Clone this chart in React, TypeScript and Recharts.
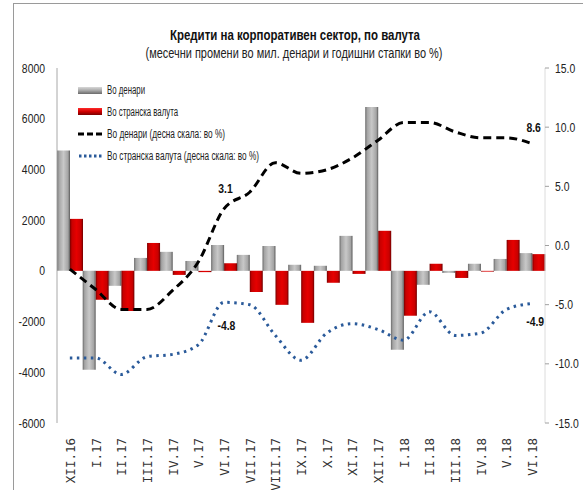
import React from "react";
import {
  ComposedChart,
  Bar,
  Line,
  XAxis,
  YAxis,
  LabelList,
} from "recharts";

const categories = [
  "XII.16", "I.17", "II.17", "III.17", "IV.17", "V.17", "VI.17", "VII.17", "VIII.17",
  "IX.17", "X.17", "XI.17", "XII.17", "I.18", "II.18", "III.18", "IV.18", "V.18", "VI.18",
];
const denariChange = [4750, -3900, -590, 510, 750, 390, 1020, 630, 980, 240, 200, 1380, 6460, -3110, -550, -80, 280, 470, 700];
const foreignChange = [2050, -1140, -1580, 1100, -160, -50, 300, -830, -1340, -2050, -470, -120, 1580, -1770, 280, -280, -30, 1220, 660];
const denariRate = [-2.0, -3.7, -5.4, -5.4, -3.8, -1.4, 3.1, 4.5, 7.0, 6.1, 6.4, 7.4, 8.9, 10.4, 10.4, 9.6, 9.1, 9.1, 8.6];
const foreignRate = [-9.5, -9.5, -10.9, -9.4, -9.2, -8.4, -4.8, -5.0, -7.6, -9.7, -7.4, -6.6, -7.1, -8.0, -5.6, -7.6, -7.4, -5.4, -4.9];
const leftTicks = [-6000, -4000, -2000, 0, 2000, 4000, 6000, 8000];
const rightTicks = [-15, -10, -5, 0, 5, 10, 15];
const labelledIdx = [6, 18];

const title = "Кредити на корпоративен сектор, по валута";
const subtitle = "(месечни промени во мил. денари и годишни стапки во %)";
const seriesNames = [
  "Во денари",
  "Во странска валута",
  "Во денари  (десна скала: во %)",
  "Во странска валута  (десна скала: во %)",
];

const data = categories.map((c, i) => ({
  cat: c,
  den: denariChange[i],
  fx: foreignChange[i],
  denR: denariRate[i],
  fxR: foreignRate[i],
}));

const FONT = "'Liberation Sans', Arial, sans-serif";
const SX = 0.8;

const XTick = (props: any) => {
  const { x, payload } = props;
  return (
    <text
      x={0}
      y={0}
      transform={`translate(${x + 5},438) rotate(-90)`}
      textAnchor="end"
      fontFamily="'DejaVu Sans Mono', monospace"
      fontSize={12.5}
      fill="#333"
    >
      {payload.value}
    </text>
  );
};

const LeftTick = (props: any) => {
  const { x, y, payload } = props;
  return (
    <g transform={`translate(${x},${y})`}>
      <text x={0} y={0} dy="0.35em" textAnchor="end" transform={`scale(${SX},1)`}
        fontFamily={FONT} fontSize={13} fill="#222">
        {payload.value}
      </text>
    </g>
  );
};

const RightTick = (props: any) => {
  const { x, y, payload } = props;
  return (
    <g transform={`translate(${x},${y})`}>
      <text x={0} y={0} dy="0.35em" textAnchor="start" transform={`scale(${SX},1)`}
        fontFamily={FONT} fontSize={13} fill="#222">
        {Number(payload.value).toFixed(1)}
      </text>
    </g>
  );
};

const makeLabel = (above: boolean) => (props: any) => {
  const { x, y, index, value } = props;
  if (!labelledIdx.includes(index)) return null;
  const last = index === categories.length - 1;
  const dy = above ? (last ? -12 : -16) : (last ? 22.5 : 28);
  const dx = above ? 1.5 : (last ? 3 : 2.5);
  return (
    <g transform={`translate(${x + dx},${y + dy})`}>
      <text x={0} y={0} textAnchor="middle" transform={`scale(${SX},1)`}
        fontFamily={FONT} fontWeight="bold" fontSize={13} fill="#111">
        {Number(value).toFixed(1)}
      </text>
    </g>
  );
};

const Legendish = () => (
  <svg width={583} height={490} style={{ position: "absolute", left: 0, top: 0, pointerEvents: "none" }}>
    <defs>
      <linearGradient id="lgGray" x1="0" y1="0" x2="0" y2="1">
        <stop offset="0%" stopColor="#d8d8d8" />
        <stop offset="50%" stopColor="#a8a8a8" />
        <stop offset="100%" stopColor="#6a6a6a" />
      </linearGradient>
      <linearGradient id="lgRed" x1="0" y1="0" x2="0" y2="1">
        <stop offset="0%" stopColor="#ff2a2a" />
        <stop offset="50%" stopColor="#d00000" />
        <stop offset="100%" stopColor="#7a0000" />
      </linearGradient>
    </defs>
    <text x={295} y={40} textAnchor="middle" textLength={250} lengthAdjust="spacingAndGlyphs"
      fontFamily={FONT} fontWeight="bold" fontSize={15} fill="#111">{title}</text>
    <text x={294} y={58} textAnchor="middle" textLength={297} lengthAdjust="spacingAndGlyphs"
      fontFamily={FONT} fontSize={14} fill="#222">{subtitle}</text>
    <rect x={78} y={87} width={24} height={7} fill="url(#lgGray)" />
    <text x={107} y={94} textLength={38} lengthAdjust="spacingAndGlyphs" fontFamily={FONT} fontSize={12} fill="#222">{seriesNames[0]}</text>
    <rect x={78} y={108} width={24} height={7} fill="url(#lgRed)" />
    <text x={107} y={116} textLength={71} lengthAdjust="spacingAndGlyphs" fontFamily={FONT} fontSize={12} fill="#222">{seriesNames[1]}</text>
    <line x1={78} y1={134} x2={102} y2={134} stroke="#000" strokeWidth={3} strokeDasharray="6 3" />
    <text x={107} y={138} textLength={118} lengthAdjust="spacingAndGlyphs" fontFamily={FONT} fontSize={12} fill="#222">{seriesNames[2]}</text>
    <line x1={79} y1={156} x2={102} y2={156} stroke="#2a5a9a" strokeWidth={3} strokeDasharray="2.5 2.5" />
    <text x={107} y={160} textLength={152} lengthAdjust="spacingAndGlyphs" fontFamily={FONT} fontSize={12} fill="#222">{seriesNames[3]}</text>
  </svg>
);

export default function App() {
  return (
    <div style={{ position: "absolute", left: 0, top: 0, width: 583, height: 490, background: "#fff", overflow: "hidden" }}>
      <div
        style={{
          position: "absolute",
          left: 13,
          top: 3,
          width: 600,
          height: 600,
          borderTop: "1.5px solid #9a9a9a",
          borderLeft: "1.5px solid #9a9a9a",
        }}
      />
      <div style={{ position: "absolute", left: 0, top: 0 }}>
        <ComposedChart
          width={583}
          height={490}
          data={data}
          margin={{ top: 68, right: 0, bottom: 4, left: 0 }}
          barCategoryGap="0%"
          barGap={0}
        >
          <defs>
            <linearGradient id="gGray" x1="0" y1="0" x2="1" y2="0">
              <stop offset="0%" stopColor="#6a6a6a" />
              <stop offset="15%" stopColor="#a4a4a4" />
              <stop offset="50%" stopColor="#c8c8c8" />
              <stop offset="85%" stopColor="#a4a4a4" />
              <stop offset="100%" stopColor="#5a5a5a" />
            </linearGradient>
            <linearGradient id="gRed" x1="0" y1="0" x2="1" y2="0">
              <stop offset="0%" stopColor="#780000" />
              <stop offset="15%" stopColor="#c80000" />
              <stop offset="50%" stopColor="#e60000" />
              <stop offset="85%" stopColor="#c80000" />
              <stop offset="100%" stopColor="#6e0000" />
            </linearGradient>
          </defs>
          <XAxis
            dataKey="cat"
            axisLine={false}
            tickLine={false}
            interval={0}
            height={63}
            tick={<XTick />}
          />
          <YAxis
            yAxisId="left"
            orientation="left"
            width={57}
            domain={[-6000, 8000]}
            ticks={leftTicks}
            interval={0}
            axisLine={{ stroke: "#a8a8a8" }}
            tickLine={false}
            tickSize={0}
            tickMargin={12}
            tick={<LeftTick />}
          />
          <YAxis
            yAxisId="right"
            orientation="right"
            width={38}
            domain={[-15, 15]}
            ticks={rightTicks}
            interval={0}
            axisLine={{ stroke: "#dcdcdc" }}
            tickLine={{ stroke: "#a0a0a0" }}
            tickSize={4}
            tickMargin={6}
            tick={<RightTick />}
          />
          <Bar yAxisId="left" dataKey="den" fill="url(#gGray)" isAnimationActive={false} />
          <Bar yAxisId="left" dataKey="fx" fill="url(#gRed)" isAnimationActive={false} />
          <Line
            yAxisId="right"
            dataKey="denR"
            type="monotone"
            stroke="#000"
            strokeWidth={3}
            strokeDasharray="8 5"
            dot={false}
            activeDot={false}
            isAnimationActive={false}
          >
            <LabelList dataKey="denR" content={makeLabel(true)} />
          </Line>
          <Line
            yAxisId="right"
            dataKey="fxR"
            type="monotone"
            stroke="#2a5a9a"
            strokeWidth={3}
            strokeDasharray="2.5 4.5"
            dot={false}
            activeDot={false}
            isAnimationActive={false}
          >
            <LabelList dataKey="fxR" content={makeLabel(false)} />
          </Line>
        </ComposedChart>
      </div>
      <Legendish />
    </div>
  );
}
